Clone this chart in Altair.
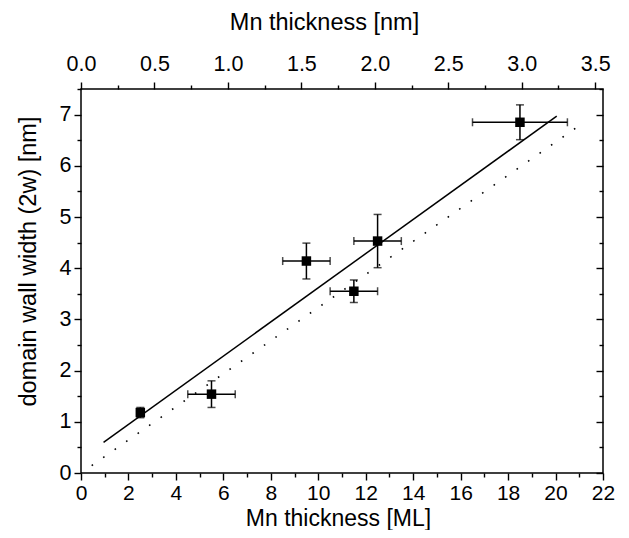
import altair as alt
import pandas as pd

# ---- data ----
x_ml = [2.5, 5.5, 9.5, 11.5, 12.5, 18.5]
y_w = [1.18, 1.54, 4.14, 3.55, 4.53, 6.85]
x_err = [0.0, 1.0, 1.0, 1.0, 1.0, 2.0]
y_err = [0.1, 0.26, 0.35, 0.22, 0.52, 0.34]

fit_x = [0.95, 20.05]
fit_y = [0.6, 6.97]
ref_x = [0.45, 21.2]
ref_y = [0.145, 6.85]

ml_ticks = list(range(0, 23))
nm_ticks = [0.0, 0.25, 0.5, 0.75, 1.0, 1.25, 1.5, 1.75, 2.0, 2.25, 2.5, 2.75, 3.0, 3.25, 3.5]
w_ticks = [0.0, 0.5, 1.0, 1.5, 2.0, 2.5, 3.0, 3.5, 4.0, 4.5, 5.0, 5.5, 6.0, 6.5, 7.0, 7.5]

ML_TO_NM = 0.1615
X_DOMAIN = [0, 22]
Y_DOMAIN = [0, 7.5]
FONT = "Liberation Sans"

pts = pd.DataFrame({"x": x_ml, "y": y_w, "xerr": x_err, "yerr": y_err})
pts["xlo"] = pts["x"] - pts["xerr"]
pts["xhi"] = pts["x"] + pts["xerr"]
pts["ylo"] = pts["y"] - pts["yerr"]
pts["yhi"] = pts["y"] + pts["yerr"]
fit = pd.DataFrame({"x": fit_x, "y": fit_y})
ref = pd.DataFrame({"x": ref_x, "y": ref_y})

xs = alt.Scale(domain=X_DOMAIN, nice=False, zero=False)
ys = alt.Scale(domain=Y_DOMAIN, nice=False, zero=False)
xtop = alt.Scale(domain=[0, X_DOMAIN[1] * ML_TO_NM], nice=False, zero=False)

common = dict(
    domain=False, grid=False, tickColor="black", tickWidth=1.4,
    labelFont=FONT, labelFontSize=21.5, labelColor="black",
    labelOverlap=False, labelFlush=False,
    titleFont=FONT, titleFontSize=23.5, titleFontWeight="normal", titleColor="black",
)

bottom_axis = alt.Axis(
    orient="bottom", title="Mn thickness [ML]", values=ml_ticks,
    tickSize=alt.ExprRef("datum.value % 2 === 0 ? 7 : 4"),
    labelExpr="datum.value % 2 === 0 ? format(datum.value, 'd') : ''",
    labelPadding=2, labelFontSize=21, titleFontSize=23,
    titleBaseline="alphabetic", titleX=257, titleY=52.5,
    **{k: v for k, v in common.items() if k not in ("labelFontSize", "titleFontSize")},
)
left_axis = alt.Axis(
    orient="left", title="domain wall width (2w) [nm]", values=w_ticks,
    tickSize=alt.ExprRef("datum.value % 1 === 0 ? 7 : 4"),
    labelExpr="datum.value % 1 === 0 ? format(datum.value, 'd') : ''",
    labelPadding=3, titleBaseline="middle", titleX=-53, titleY=172, titleAngle=270, **common,
)
top_axis = alt.Axis(
    orient="top", title="Mn thickness [nm]", values=nm_ticks,
    tickSize=alt.ExprRef("round(datum.value * 4) % 2 === 0 ? 7 : 4"),
    labelExpr="round(datum.value * 4) % 2 === 0 ? format(datum.value, '.1f') : ''",
    labelPadding=7, titleBaseline="middle", titleX=243, titleY=-67, **common,
)
right_axis = alt.Axis(
    orient="right", title=None, values=w_ticks, labels=False,
    tickSize=alt.ExprRef("datum.value % 1 === 0 ? -7 : -4"),
    domain=False, grid=False, tickColor="black", tickWidth=1.4,
)

X = lambda f: alt.X(f, type="quantitative", scale=xs, axis=bottom_axis)
Y = lambda f: alt.Y(f, type="quantitative", scale=ys, axis=left_axis)

ref_line = alt.Chart(ref).mark_line(
    color="black", strokeWidth=1.6, strokeDash=[1.6, 12.4], strokeCap="butt"
).encode(x=X("x"), y=Y("y"))

fit_line = alt.Chart(fit).mark_line(color="black", strokeWidth=1.5).encode(
    x=X("x"), y=Y("y"))

base = alt.Chart(pts)
hbar = base.mark_rule(color="black", strokeWidth=1.5).encode(
    x=X("xlo"), x2="xhi", y=Y("y"))
vbar = base.mark_rule(color="black", strokeWidth=1.5).encode(
    x=X("x"), y=Y("ylo"), y2="yhi")
cap_l = base.mark_tick(orient="vertical", color="black", size=8, thickness=1.5).encode(
    x=X("xlo"), y=Y("y"))
cap_r = base.mark_tick(orient="vertical", color="black", size=8, thickness=1.5).encode(
    x=X("xhi"), y=Y("y"))
cap_b = base.mark_tick(orient="horizontal", color="black", size=8, thickness=1.5).encode(
    x=X("x"), y=Y("ylo"))
cap_t = base.mark_tick(orient="horizontal", color="black", size=8, thickness=1.5).encode(
    x=X("x"), y=Y("yhi"))
squares = base.mark_square(size=90, color="black", opacity=1, filled=True).encode(
    x=X("x"), y=Y("y"))

main = alt.layer(ref_line, fit_line, hbar, vbar, cap_l, cap_r, cap_b, cap_t, squares)

aux = base.transform_calculate(nm=f"datum.x * {ML_TO_NM}").mark_point(opacity=0).encode(
    x=alt.X("nm:Q", scale=xtop, axis=top_axis),
    y=alt.Y("y:Q", scale=ys, axis=right_axis),
)

chart = alt.layer(main, aux).resolve_scale(x="independent", y="independent").properties(
    width=522, height=384,
    autosize=alt.AutoSizeParams(type="none"),
    padding={"left": 73, "top": 81, "right": 18, "bottom": 57},
).configure_view(stroke="black", strokeWidth=1.5)

chart.save("out.html", embed_options={"renderer": "svg", "actions": False})
